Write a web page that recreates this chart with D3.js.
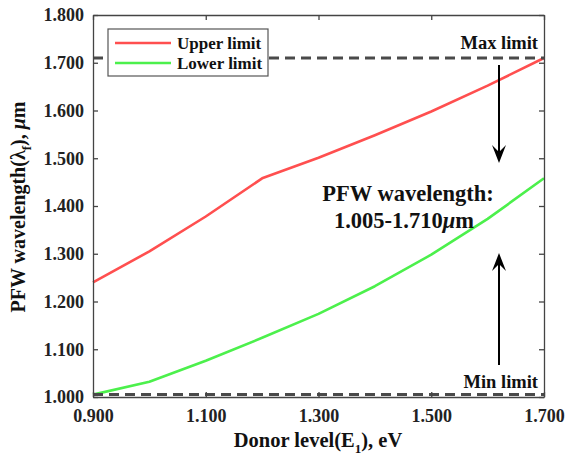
<!DOCTYPE html>
<html><head><meta charset="utf-8">
<script src="https://cdn.jsdelivr.net/npm/d3@7/dist/d3.min.js"></script>
<style>body{margin:0;background:#fff}</style>
</head><body><svg id="c" width="567" height="459"></svg>
<script>
const donorLevels = [0.9, 1.0, 1.1, 1.2, 1.3, 1.4, 1.5, 1.6, 1.7];
const upperLimit = [1.240, 1.305, 1.378, 1.458, 1.501, 1.548, 1.598, 1.652, 1.710];
const lowerLimit = [1.005, 1.032, 1.076, 1.124, 1.174, 1.232, 1.298, 1.373, 1.458];
const maxLimit = 1.710, minLimit = 1.005;
const xTicks = [0.9, 1.1, 1.3, 1.5, 1.7];
const yTicks = [1.0, 1.1, 1.2, 1.3, 1.4, 1.5, 1.6, 1.7, 1.8];
const seriesNames = ["Upper limit", "Lower limit"];
const seriesColors = ["#ff4f4f", "#4cf04c"];

const FONT = "'Liberation Serif', 'Times New Roman', Tinos, serif";
const svg = d3.select("#c");
const L = 93, R = 544, T = 15, B = 397;
const x = d3.scaleLinear().domain([0.9, 1.7]).range([L, R]);
const y = d3.scaleLinear().domain([1.0, 1.8]).range([B, T]);
const axisCol = "#444";

function txt(sel, size) {
  return sel.attr("font-family", FONT).style("font-family", FONT).attr("font-weight", "bold")
    .style("font-weight", "bold").style("font-size", size + "px").attr("fill", "#111");
}

// data lines
const line = d3.line().x((d, i) => x(donorLevels[i])).y(d => y(d));
[upperLimit, lowerLimit].forEach((s, k) => {
  svg.append("path").attr("d", line(s)).attr("fill", "none")
    .attr("stroke", seriesColors[k]).attr("stroke-width", 2.6).attr("stroke-linejoin", "round");
});

// limit dashed lines
[maxLimit, minLimit].forEach(v => {
  svg.append("line").attr("x1", L).attr("x2", R).attr("y1", y(v)).attr("y2", y(v))
    .attr("stroke", "#4a4a4a").attr("stroke-width", 3).attr("stroke-dasharray", "10,6");
});

// axes
const fmt = d3.format(".3f");
const gx = svg.append("g").attr("transform", `translate(0,${B})`)
  .call(d3.axisBottom(x).tickValues(xTicks).tickFormat(fmt).tickSizeInner(-5).tickSizeOuter(0).tickPadding(12));
const gxt = svg.append("g").attr("transform", `translate(0,${T})`)
  .call(d3.axisTop(x).tickValues(xTicks).tickFormat("").tickSizeInner(-5).tickSizeOuter(0));
const gy = svg.append("g").attr("transform", `translate(${L},0)`)
  .call(d3.axisLeft(y).tickValues(yTicks).tickFormat(fmt).tickSizeInner(-5).tickSizeOuter(0).tickPadding(9));
const gyr = svg.append("g").attr("transform", `translate(${R},0)`)
  .call(d3.axisRight(y).tickValues(yTicks).tickFormat("").tickSizeInner(-5).tickSizeOuter(0));
[gx, gxt, gy, gyr].forEach(g => {
  g.attr("font-family", FONT);
  g.select(".domain").attr("stroke", axisCol).attr("stroke-width", 1.3);
  g.selectAll(".tick line").attr("stroke", axisCol).attr("stroke-width", 1.3);
  txt(g.selectAll("text"), 18).attr("fill", "#222");
});

// axis labels
const xl = txt(svg.append("text").attr("x", 318).attr("y", 447).attr("text-anchor", "middle"), 20.5);
xl.append("tspan").text("Donor level(E");
xl.append("tspan").text("1").attr("dy", 6).style("font-size", "13px");
xl.append("tspan").text("), eV").attr("dy", -6);

const yl = txt(svg.append("text").attr("transform", "translate(25,207) rotate(-90)").attr("text-anchor", "middle"), 20);
yl.append("tspan").text("PFW wavelength(λ");
yl.append("tspan").text("f").attr("dy", 6).style("font-size", "13px");
yl.append("tspan").text("), ").attr("dy", -6);
yl.append("tspan").text("μ").style("font-style", "italic");
yl.append("tspan").text("m");

// legend
svg.append("rect").attr("x", 108).attr("y", 29).attr("width", 160).attr("height", 47)
  .attr("fill", "#fff").attr("stroke", "#555").attr("stroke-width", 1.2);
seriesNames.forEach((n, k) => {
  const yy = 43 + k * 20;
  svg.append("line").attr("x1", 115).attr("x2", 171).attr("y1", yy).attr("y2", yy)
    .attr("stroke", seriesColors[k]).attr("stroke-width", 2.6);
  txt(svg.append("text").attr("x", 177).attr("y", yy + 5.5).text(n), 17);
});

// annotations
txt(svg.append("text").attr("x", 538).attr("y", 49).attr("text-anchor", "end").text("Max limit"), 18.5);
txt(svg.append("text").attr("x", 538).attr("y", 388).attr("text-anchor", "end").text("Min limit"), 18.5);
txt(svg.append("text").attr("x", 408).attr("y", 201).attr("text-anchor", "middle").text("PFW wavelength:"), 22.5);
const t2 = txt(svg.append("text").attr("x", 404).attr("y", 228).attr("text-anchor", "middle"), 22.5);
t2.append("tspan").text("1.005-1.710");
t2.append("tspan").text("μ").style("font-style", "italic");
t2.append("tspan").text("m");

// arrows
function arrow(x0, y0, y1) {
  const dir = Math.sign(y1 - y0);
  svg.append("line").attr("x1", x0).attr("x2", x0).attr("y1", y0).attr("y2", y1 - dir * 8)
    .attr("stroke", "#000").attr("stroke-width", 2);
  const hl = 18, hw = 7, notch = 11;
  const p = [[x0, y1], [x0 - hw, y1 - dir * hl], [x0, y1 - dir * notch], [x0 + hw, y1 - dir * hl]];
  svg.append("path").attr("d", "M" + p.map(d => d.join(",")).join("L") + "Z").attr("fill", "#000");
}
arrow(499, 65, 163);
arrow(499, 365, 253);
</script></body></html>
